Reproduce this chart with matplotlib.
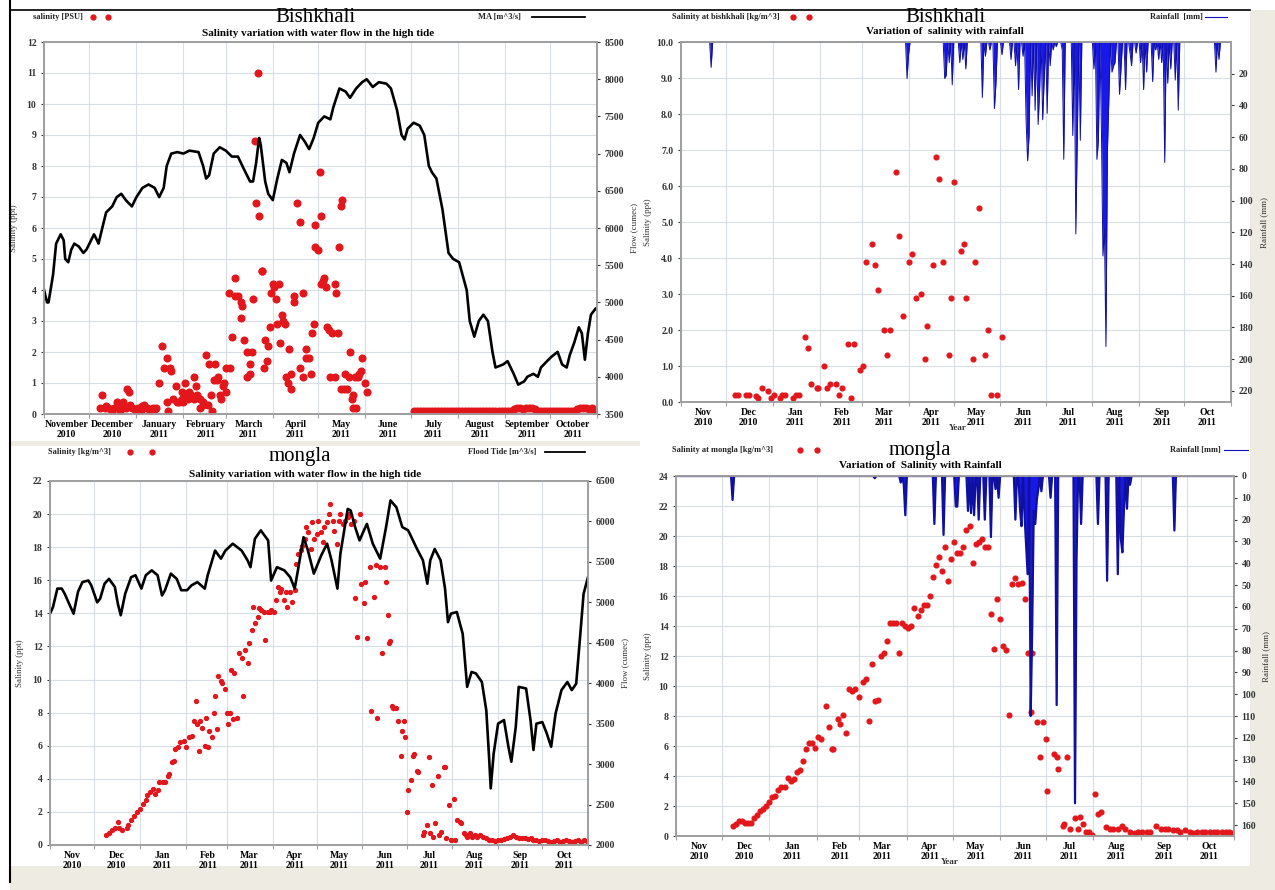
import numpy as np
import matplotlib.pyplot as plt
import matplotlib.dates as mdates
from matplotlib.lines import Line2D
from matplotlib.patches import Rectangle

plt.rcParams['font.family'] = ['Liberation Serif', 'DejaVu Serif']
plt.rcParams['font.weight'] = 'bold'

W, H = 1275, 890
start = np.datetime64('2010-11-01')
end = np.datetime64('2011-11-01')

# ---------------- Bishkhali : salinity + flow (top left) ----------------
bk_flow_day = [0, 2, 3, 6, 8, 11, 13, 14, 16, 18, 20, 23, 26, 28,
               30, 33, 35, 36, 38, 41, 45, 48, 51, 54, 58,
               61, 65, 69, 73, 76, 79, 81, 84, 88,
               92, 96, 102, 105, 107, 109, 112, 116,
               120, 124, 128, 132, 136, 138, 140, 142, 143, 146, 148,
               151, 154, 157, 160, 162, 165, 169, 172, 175, 178,
               181, 185, 189, 191, 195, 199, 202, 206, 210,
               213, 217, 221, 226, 229, 233, 236, 238, 240,
               244, 248, 251, 254, 256, 259, 263, 267, 270,
               274, 279, 281, 284, 287, 290, 293, 296, 298, 303,
               306, 310, 313, 317, 319, 323, 326, 328, 332,
               335, 339, 342, 345, 347, 350, 353, 355, 357, 359, 361, 364]
bk_flow = [5170, 5000, 5000, 5375, 5790, 5915, 5835, 5585, 5540, 5710, 5790, 5750, 5665, 5710,
           5790, 5915, 5835, 5790, 5960, 6210, 6290, 6415, 6460, 6375, 6290,
           6415, 6540, 6585, 6540, 6415, 6540, 6835, 7000, 7020,
           7000, 7040, 7020, 6835, 6665, 6710, 7000, 7085,
           7040, 6960, 6960, 6790, 6625, 6625, 6875, 7210, 7125, 6625, 6460,
           6375, 6665, 6915, 6875, 6750, 7000, 7250, 7165, 7060, 7210,
           7415, 7500, 7460, 7625, 7875, 7835, 7750, 7875, 7960,
           8000, 7895, 7960, 7940, 7875, 7585, 7250, 7190, 7335,
           7415, 7375, 7250, 6835, 6750, 6665, 6250, 5665, 5585,
           5540, 5165, 4750, 4540, 4750, 4835, 4750, 4335, 4125, 4165,
           4210, 4040, 3895, 3940, 4000, 4040, 4000, 4125, 4210,
           4270, 4335, 4165, 4125, 4290, 4460, 4665, 4585, 4230, 4585, 4835, 4915]

bk_sal_day = [37, 38, 40, 41, 42, 44, 45, 46, 48, 50, 51, 52, 54, 55, 56, 57, 58, 60, 61,
              62, 64, 65, 66, 68, 69, 70, 72, 73, 74, 76, 78, 79, 81, 81, 82, 83, 84, 85, 87, 88, 89, 91, 91, 92, 93,
              94, 95, 96, 97, 99, 99, 100, 101, 103, 103, 105, 105, 107, 108, 109, 110, 111, 112, 113, 114, 115, 116, 117, 118, 119, 120,
              120, 122, 123, 124, 126, 126, 128, 130, 130, 131, 132, 134, 134, 136, 136, 137, 138, 139, 140, 141, 142, 144, 144, 145, 146, 147, 148, 149, 150, 151, 152,
              153, 154, 155, 156, 157, 158, 159, 160, 161, 162, 163, 163, 165, 165, 167, 169, 169, 171, 171, 173, 173, 175, 176, 177, 178, 179,
              179, 181, 182, 183, 183, 184, 185, 186, 187, 188, 189, 190, 192, 192, 193, 194, 195, 196, 196, 197, 198, 199, 200, 201, 202, 203, 204, 204, 205, 206, 207, 208, 209, 210, 212, 213]
bk_sal = [0.2, 0.6, 0.2, 0.25, 0.2, 0.15, 0.1, 0.2, 0.4, 0.1, 0.2, 0.4, 0.2, 0.8, 0.7, 0.3, 0.2, 0.15, 0.1,
          0.2, 0.1, 0.25, 0.3, 0.2, 0.15, 0.1, 0.2, 0.15, 0.2, 1.0, 2.2, 1.5, 1.8, 0.4, 0.1, 1.5, 1.4, 0.5, 0.9, 0.4, 0.4, 0.5, 0.7, 0.4, 1.0,
          0.6, 0.5, 0.7, 0.6, 0.5, 1.2, 0.9, 0.6, 0.5, 0.2, 0.4, 0.3, 1.9, 0.3, 1.6, 0.6, 0.1, 1.1, 1.6, 1.1, 1.2, 0.6, 0.5, 0.9, 1.0, 0.7,
          1.5, 3.9, 1.5, 2.5, 4.4, 3.8, 3.8, 3.1, 3.6, 3.5, 2.4, 2.0, 1.2, 1.6, 1.3, 2.0, 3.7, 8.8, 6.8, 11.0, 6.4, 4.6, 4.6, 1.5, 2.4, 1.7, 2.2, 2.8, 3.9, 4.2, 4.1,
          3.7, 2.9, 4.2, 2.3, 3.2, 3.0, 2.9, 1.2, 1.0, 2.1, 0.8, 1.3, 3.6, 3.8, 6.8, 1.5, 6.2, 1.2, 3.9, 1.8, 2.1, 1.8, 1.3, 2.6, 2.9, 6.1,
          5.4, 5.3, 7.8, 4.2, 6.4, 4.3, 4.4, 4.1, 2.8, 2.7, 1.2, 2.6, 1.2, 4.2, 3.9, 2.6, 5.4, 0.8, 6.7, 6.9, 0.8, 1.3, 0.8, 1.2, 2.0, 0.5, 0.2, 0.6, 1.2, 0.2, 1.2, 1.3, 1.4, 1.8, 1.0, 0.7]

bk_late_day = np.arange(244, 365, 2)
bk_late_sal = [0.1, 0.1, 0.1, 0.1, 0.1, 0.1, 0.1, 0.1, 0.1, 0.1, 0.1, 0.1, 0.1, 0.1, 0.1, 0.1, 0.1,
               0.1, 0.1, 0.1, 0.1, 0.1, 0.1, 0.1, 0.1, 0.1, 0.1, 0.1, 0.1, 0.1, 0.1, 0.1, 0.1,
               0.15, 0.2, 0.2, 0.15, 0.2, 0.2, 0.2, 0.15,
               0.1, 0.1, 0.1, 0.1, 0.1, 0.1, 0.1, 0.1, 0.1, 0.1, 0.1, 0.1, 0.1,
               0.15, 0.2, 0.2, 0.2, 0.15, 0.2, 0.1]

# ---------------- Bishkhali : salinity + rainfall (top right) ----------------
bk2_sal_day = [36, 38, 43, 45, 50, 51, 54, 58, 60, 62, 66, 67, 69, 74, 76, 78,
               82, 84, 86, 90, 91, 95, 97, 99, 103, 105, 107, 111, 113, 115, 119, 121,
               123, 127, 129, 131, 135, 137, 139, 143, 145, 147, 151, 153, 156, 159, 162, 163, 167,
               169, 171, 174, 178, 179, 181, 186, 188, 189, 194, 195, 198, 202, 204, 206, 210, 213]
bk2_sal = [0.2, 0.2, 0.2, 0.2, 0.17, 0.1, 0.4, 0.3, 0.1, 0.2, 0.1, 0.2, 0.2, 0.1, 0.2, 0.2,
           1.8, 1.5, 0.5, 0.4, 0.4, 1.0, 0.4, 0.5, 0.5, 0.2, 0.4, 1.6, 0.1, 1.6, 0.9, 1.0,
           3.9, 4.4, 3.8, 3.1, 2.0, 1.3, 2.0, 6.4, 4.6, 2.4, 3.9, 4.1, 2.9, 3.0, 1.2, 2.1, 3.8,
           6.8, 6.2, 3.9, 1.3, 2.9, 6.1, 4.2, 4.4, 2.9, 1.2, 3.9, 5.4, 1.3, 2.0, 0.2, 0.2, 1.8]

bk_rain_day = [20, 150, 151, 175, 176, 178, 180, 185, 187, 189, 200, 202, 205, 208, 209, 213,
               219, 222, 224, 227, 229, 230, 231, 233, 235, 237, 238, 240, 241, 243, 245, 247, 249,
               253, 254, 260, 262, 263, 265, 274, 276, 277, 279, 280, 281, 282, 283, 284, 286, 287, 288,
               291, 292, 295, 298, 299, 302, 305, 307, 309, 313, 315, 317, 319, 321, 323, 325, 328, 330,
               355, 357]
bk_rain = [16, 23, 8, 23, 21, 13, 27, 13, 11, 17, 35, 9, 5, 42, 26, 8,
           11, 15, 30, 9, 49, 75, 59, 34, 43, 52, 30, 49, 24, 45, 15, 5, 3,
           5, 74, 59, 121, 59, 62, 17, 74, 62, 55, 135, 118, 192, 68, 34, 19, 15, 13,
           33, 17, 30, 7, 15, 7, 13, 30, 19, 25, 5, 11, 13, 76, 26, 17, 24, 43,
           19, 11]

# ---------------- Mongla : salinity + flood tide (bottom left) ----------------
mg_flow_day = [0, 2, 5, 8, 10, 14, 16, 19, 22, 26, 28, 32, 34, 37, 40, 44, 46, 48, 51, 55, 58,
               62, 65, 69, 73, 76, 78, 82, 86, 89, 93, 96, 100, 105, 107, 112, 116, 119, 124, 130,
               134, 136, 139, 143, 148, 150, 154, 159, 163, 166, 168, 172, 175, 179, 184, 188, 191,
               195, 197, 202, 204, 207, 210, 213, 215, 219, 224, 228, 231, 235, 239, 243, 249, 253,
               256, 258, 261, 265, 268, 270, 272, 276, 280, 283, 286, 289, 293, 296, 298, 299, 301,
               304, 308, 311, 313, 316, 318, 323, 326, 328, 330, 334, 337, 340, 343, 347, 351, 354,
               357, 360, 362, 365]
mg_flow = [4860, 4940, 5170, 5170, 5105, 4940, 4860, 5130, 5250, 5270, 5210, 5000, 5045, 5230, 5290, 5190, 4985, 4840, 5105, 5310, 5335,
           5170, 5335, 5395, 5335, 5085, 5150, 5355, 5290, 5150, 5150, 5210, 5250, 5170, 5335, 5640, 5540, 5640, 5725, 5640,
           5520, 5435, 5785, 5890, 5765, 5270, 5435, 5395, 5310, 5170, 5375, 5805, 5640, 5355, 5580, 5725, 5520,
           5170, 5600, 6155, 6135, 5930, 5765, 5890, 5970, 5725, 5540, 5930, 6260, 6175, 5930, 5890, 5660, 5520,
           5230, 5520, 5660, 5520, 5170, 4755, 4860, 4880, 4610, 3955, 4140, 4120, 4015, 3665, 3050, 2700, 3130,
           3500, 3545, 3215, 3030, 3460, 3955, 3935, 3545, 3175, 3500, 3520, 3380, 3215, 3625, 3915, 4015, 3915,
           3995, 4655, 5105, 5310]

mg_sal_day = [38, 40, 42, 44, 46, 47, 49, 52, 53, 55, 57, 59, 61, 63, 65, 66, 68, 70, 71, 73,
              74, 77, 78, 80, 81, 83, 84, 85, 87, 88, 91, 92, 94, 96, 98, 99, 100, 101, 102, 103,
              105, 106, 107, 108, 110, 111, 112, 113, 114, 116, 117, 119, 120, 121, 122, 123, 124, 125, 127, 128,
              130, 131, 132, 134, 135, 137, 138, 139, 141, 142, 143, 145, 146, 148, 149, 150, 152, 153, 155, 156,
              157, 159, 160, 161, 163, 164, 166, 167, 168, 170, 171, 173, 174, 175, 177, 178, 179, 181, 182, 184,
              185, 186, 188, 189, 190, 192, 193, 195, 196, 197, 199, 200, 202, 203, 204, 206, 207, 208, 210, 211,
              213, 214, 215, 217, 218, 220, 221, 222, 224, 225, 227, 228, 229, 230, 231, 232, 233, 235, 236, 238,
              239, 240, 241, 242, 243, 245, 246, 247, 249, 250, 253, 254, 256, 257, 258, 259, 260, 261, 263, 264,
              265, 267, 268, 269, 271, 272, 274, 275, 276, 278, 279, 281, 282, 283, 285, 286,
              288, 290, 292, 294, 296, 298, 300, 302, 304, 306, 308, 310, 312, 314, 316, 318, 320, 322, 324, 326,
              328, 330, 332, 334, 336, 338, 340, 342, 344, 346, 348, 350, 352, 354, 356, 358, 360, 362, 364]
mg_sal = [0.6, 0.75, 0.9, 1.0, 1.4, 1.0, 0.9, 1.0, 1.2, 1.5, 1.75, 2.0, 2.2, 2.5, 2.7, 3.0, 3.2, 3.4, 3.1, 3.3,
          3.8, 3.8, 3.8, 4.2, 4.3, 5.0, 5.1, 5.8, 5.9, 6.2, 6.3, 5.9, 6.5, 6.6, 7.5, 8.7, 7.3, 5.7, 7.5, 7.1,
          6.0, 7.7, 5.9, 6.9, 6.5, 8.0, 9.0, 7.0, 10.2, 9.9, 9.8, 9.4, 8.0, 7.3, 8.0, 10.6, 7.6, 10.4, 7.7, 11.6,
          11.3, 9.0, 11.8, 11.0, 12.2, 13.0, 14.4, 13.4, 13.8, 14.3, 14.2, 14.1, 12.4, 14.1, 14.1, 14.2, 14.1, 14.8, 15.6, 15.3,
          15.5, 14.8, 15.3, 14.4, 15.3, 14.7, 15.4, 17.0, 17.6, 17.8, 18.1, 18.5, 19.2, 18.9, 17.9, 19.5, 18.5, 18.8, 19.6, 18.9,
          18.3, 19.2, 19.5, 20.0, 20.6, 19.6, 19.0, 18.2, 19.6, 20.0, 19.4, 19.6, 19.8, 20.0, 19.4, 19.6, 14.9, 12.6, 20.0, 15.8,
          14.6, 15.9, 12.5, 16.8, 8.1, 15.0, 16.9, 7.7, 16.8, 11.6, 16.8, 15.9, 13.9, 12.2, 12.3, 8.4, 8.3, 8.3, 7.5, 5.4,
          6.9, 7.5, 6.5, 2.0, 3.3, 3.9, 5.4, 5.5, 4.5, 4.4, 0.6, 0.8, 1.2, 5.3, 0.7, 3.6, 0.5, 1.3, 4.2, 0.6,
          0.8, 4.7, 4.7, 0.4, 2.4, 0.3, 2.8, 0.3, 1.5, 1.4, 1.3, 0.7, 0.6, 0.5, 0.75, 0.5,
          0.6, 0.5, 0.6, 0.5, 0.4, 0.3, 0.3, 0.25, 0.3, 0.3, 0.35, 0.4, 0.5, 0.6, 0.5, 0.45, 0.4, 0.4, 0.35, 0.4,
          0.3, 0.3, 0.25, 0.3, 0.3, 0.25, 0.2, 0.25, 0.3, 0.2, 0.25, 0.3, 0.25, 0.2, 0.25, 0.3, 0.2, 0.3, 0.25]

# ---------------- Mongla : salinity + rainfall (bottom right) ----------------
mg2_sal_day = [37, 39, 41, 43, 45, 47, 49, 51, 53, 55, 57, 59, 61, 63, 65, 67, 69, 71, 73, 75,
               77, 79, 81, 83, 85, 87, 89, 91, 93, 95, 98, 100, 102, 103, 106, 107, 109, 111, 113, 115,
               117, 120, 122, 124, 126, 128, 130, 132, 134, 136, 138, 140, 142, 144, 146, 148, 150, 152, 154, 156,
               158, 160, 162, 164, 166, 168, 170, 172, 174, 176, 178, 180, 182, 184, 186, 188, 190, 192, 194, 196,
               198, 200, 202, 204, 206, 208, 210, 212, 214, 216, 218, 220, 222, 224, 226, 228, 230, 232, 233, 236,
               238, 240, 242, 243, 247, 249, 250, 253, 254, 256, 258, 261, 263, 264, 266, 268, 270, 272, 274, 276,
               278, 281, 284, 286, 289, 292, 294, 297, 300, 302, 305, 308, 310, 314, 317, 320, 322, 325, 328, 330,
               333, 336, 338, 341, 344, 346, 349, 352, 354, 357, 360, 362, 364]
mg2_sal = [0.7, 0.8, 1.0, 1.0, 0.9, 0.9, 0.9, 1.2, 1.4, 1.7, 1.8, 2.0, 2.3, 2.6, 2.7, 3.1, 3.3, 3.3, 3.9, 3.7,
           3.8, 4.3, 4.4, 5.0, 5.8, 6.2, 6.2, 5.9, 6.6, 6.5, 8.7, 7.3, 5.8, 5.8, 7.8, 7.5, 8.1, 6.9, 9.8, 9.7,
           9.8, 9.3, 10.3, 10.5, 7.7, 11.5, 9.0, 9.1, 12.0, 12.2, 13.0, 14.2, 14.2, 14.2, 12.2, 14.2, 14.0, 13.9, 14.0, 15.2,
           14.7, 15.1, 15.4, 15.4, 16.0, 17.3, 18.1, 18.6, 17.7, 19.3, 17.0, 18.5, 19.6, 18.9, 18.9, 19.3, 20.4, 20.7, 18.2, 19.5,
           19.6, 19.8, 19.3, 19.3, 14.8, 12.5, 15.8, 14.5, 12.7, 12.4, 8.1, 16.8, 17.2, 16.8, 16.9, 15.8, 12.2, 8.3, 12.2, 7.6,
           5.3, 7.6, 6.5, 3.0, 5.5, 5.3, 4.5, 0.7, 0.8, 5.3, 0.5, 1.2, 0.5, 1.3, 0.8, 0.3, 0.3, 0.1, 2.8, 1.5,
           1.6, 0.6, 0.5, 0.5, 0.5, 0.7, 0.5, 0.3, 0.2, 0.3, 0.3, 0.3, 0.3, 0.7, 0.5, 0.5, 0.5, 0.4, 0.4, 0.3,
           0.4, 0.3, 0.2, 0.3, 0.3, 0.25, 0.3, 0.25, 0.3, 0.25, 0.25, 0.3, 0.2]

mg_rain_day = [37, 130, 147, 149, 150, 169, 175, 183, 184, 191, 193, 195, 198, 202, 206, 209, 211,
               222, 225, 226, 228, 229, 230, 232, 233, 234, 235, 236, 237, 239, 245, 249, 261, 262, 265,
               276, 282, 289, 291, 292, 293, 295, 297, 326]
mg_rain = [11, 1, 3, 4, 18, 22, 27, 14, 14, 16, 17, 18, 20, 20, 28, 6, 10,
           20, 15, 23, 18, 32, 45, 110, 70, 16, 22, 11, 6, 7, 10, 105, 150, 38, 22,
           22, 48, 45, 29, 35, 15, 15, 4, 25]

RED = '#e3161b'
BLUE = '#1818e8'
GRID = '#d9dee5'
SPINE = '#a0a0a0'


def to_date(days):
    return start + np.asarray(days).astype('timedelta64[D]')


def fx(x):
    return x / W


def fy(y):
    return 1 - y / H


fig = plt.figure(figsize=(12.75, 8.9), dpi=100)
fig.patch.set_facecolor('white')


def frect(x0, y0, x1, y1, color):
    fig.add_artist(Rectangle((fx(x0), fy(y1)), (x1 - x0) / W, (y1 - y0) / H,
                             transform=fig.transFigure, facecolor=color,
                             edgecolor='none', zorder=-10))


beige = '#eeebe3'
frect(10, 866, 1275, 890, beige)
frect(1250, 10, 1275, 890, beige)
frect(10, 441, 640, 446, beige)
fig.add_artist(Line2D([fx(10), fx(10)], [fy(0), fy(882)], color='black', lw=1.5,
                      transform=fig.transFigure))
fig.add_artist(Line2D([fx(10), fx(1250)], [fy(10), fy(10)], color='black', lw=1.2,
                      transform=fig.transFigure))


def panel(l, t, r, b, fmt):
    ax = fig.add_axes([fx(l), fy(b), (r - l) / W, (b - t) / H])
    ax2 = ax.twinx()
    for a in (ax, ax2):
        for s in a.spines.values():
            s.set_color(SPINE)
            s.set_linewidth(1.3)
        a.tick_params(labelsize=7, colors='#333333', length=2)
    ax.set_xlim(start, end)
    ax.xaxis.set_major_locator(mdates.MonthLocator())
    ax.xaxis.set_major_formatter(plt.NullFormatter())
    ax.xaxis.set_minor_locator(mdates.MonthLocator(bymonthday=16))
    ax.xaxis.set_minor_formatter(mdates.DateFormatter(fmt))
    ax.tick_params(axis='x', which='minor', length=0, labelsize=7, pad=4)
    ax.tick_params(axis='x', which='major', length=3, color=SPINE)
    ax.grid(True, which='major', color=GRID, lw=0.8)
    ax.set_axisbelow(True)
    return ax, ax2


def legend_items(x_text, y, text, dot_x, line_text, x_line_text, line_x, line_color, line_lw):
    fig.text(fx(x_text), fy(y), text, fontsize=6, va='center', ha='left', color='#222222')
    fig.add_artist(Line2D([fx(dot_x[0]), fx(dot_x[1])], [fy(y), fy(y)], ls='none', marker='o',
                          ms=3.5, color=RED, transform=fig.transFigure))
    fig.text(fx(x_line_text), fy(y), line_text, fontsize=6, va='center', ha='left', color='#222222')
    fig.add_artist(Line2D([fx(line_x[0]), fx(line_x[1])], [fy(y), fy(y)], color=line_color,
                          lw=line_lw, transform=fig.transFigure))


LABEL = dict(fontsize=6.5, color='#333333')

# ---- top left
ax, ax2 = panel(44, 42, 597, 414, '%B\n%Y')
ax2.plot(to_date(bk_flow_day), bk_flow, color='black', lw=1.9)
ax.plot(to_date(bk_sal_day), bk_sal, 'o', color=RED, ms=4.8, zorder=3)
ax.plot(to_date(bk_late_day), bk_late_sal, 'o', color=RED, ms=4.8, zorder=3)
ax.set_ylim(0, 12)
ax.set_yticks(range(0, 13))
ax2.set_ylim(3500, 8500)
ax2.set_yticks(range(3500, 8501, 500))
ax.set_ylabel('Salinity (ppt)', labelpad=6, **LABEL)
ax2.set_ylabel('Flow (cumec)', labelpad=4, **LABEL)
fig.text(fx(315), fy(18), 'Bishkhali', fontsize=15, fontweight='normal', ha='center', va='center')
fig.text(fx(318), fy(34), 'Salinity variation with water flow in the high tide', fontsize=8,
         ha='center', va='center')
legend_items(33, 17, 'salinity [PSU]', (93, 108), 'MA [m^3/s]', 478, (532, 585), 'black', 1.3)

# ---- top right
ax, ax2 = panel(681, 42, 1231, 402, '%b\n%Y')
ax.plot(to_date(bk2_sal_day), bk2_sal, 'o', color=RED, ms=3.4, zorder=3)
ax.set_ylim(0, 10)
ax.set_yticks(range(0, 11))
ax.yaxis.set_major_formatter(plt.FormatStrFormatter('%.1f'))
rain_days = np.arange(0, 366)
rain_tr = np.zeros(366)
rain_tr[bk_rain_day] = bk_rain
ax2.fill_between(to_date(rain_days), 0, rain_tr, color=BLUE, lw=0)
ax2.plot(to_date(rain_days), rain_tr, color='#1010a0', lw=0.7)
ax2.set_ylim(227, 0)
ax2.set_yticks(range(20, 221, 20))
ax2.set_xlim(start, end)
ax.set_ylabel('Salinity (ppt)', labelpad=3, **LABEL)
ax2.set_ylabel('Rainfall (mm)', labelpad=5, **LABEL)
fig.text(fx(945), fy(18), 'Bishkhali', fontsize=15, fontweight='normal', ha='center', va='center')
fig.text(fx(945), fy(32), 'Variation of  salinity with rainfall', fontsize=8, ha='center', va='center')
fig.text(fx(958), fy(428), 'Year', fontsize=6.5, ha='center', va='center', color='#333333')
legend_items(672, 17, 'Salinity at bishkhali [kg/m^3]', (793, 809), 'Rainfall  [mm]', 1150,
             (1205, 1227), '#1010c0', 0.8)

# ---- bottom left
ax, ax2 = panel(50, 481, 588, 845, '%b\n%Y')
ax2.plot(to_date(mg_flow_day), mg_flow, color='black', lw=1.9)
ax.plot(to_date(mg_sal_day), mg_sal, 'o', color=RED, ms=2.8, zorder=3)
ax.set_ylim(0, 22)
ax.set_yticks(range(0, 23, 2))
ax2.set_ylim(2000, 6500)
ax2.set_yticks(range(2000, 6501, 500))
ax.set_ylabel('Salinity (ppt)', labelpad=6, **LABEL)
ax2.set_ylabel('Flow (cumec)', labelpad=4, **LABEL)
fig.text(fx(300), fy(457), 'mongla', fontsize=15, fontweight='normal', ha='center', va='center')
fig.text(fx(305), fy(474), 'Salinity variation with water flow in the high tide', fontsize=8,
         ha='center', va='center')
legend_items(48, 452, 'Salinity [kg/m^3]', (130, 152), 'Flood Tide [m^3/s]', 468, (545, 585), 'black', 1.3)

# ---- bottom right
ax, ax2 = panel(676, 476, 1234, 836, '%b\n%Y')
ax.plot(to_date(mg2_sal_day), mg2_sal, 'o', color=RED, ms=3.4, zorder=3)
ax.set_ylim(0, 24)
ax.set_yticks(range(0, 25, 2))
rain_br = np.zeros(366)
rain_br[mg_rain_day] = mg_rain
ax2.fill_between(to_date(rain_days), 0, rain_br, color=BLUE, lw=0)
ax2.plot(to_date(rain_days), rain_br, color='#1010a0', lw=1.6)
ax2.set_ylim(165, 0)
ax2.set_yticks(range(0, 161, 10))
ax2.set_xlim(start, end)
ax.set_ylabel('Salinity (ppt)', labelpad=5, **LABEL)
ax2.set_ylabel('Rainfall (mm)', labelpad=4, **LABEL)
fig.text(fx(920), fy(450), 'mongla', fontsize=15, fontweight='normal', ha='center', va='center')
fig.text(fx(920), fy(466), 'Variation of  Salinity with Rainfall', fontsize=8, ha='center', va='center')
fig.text(fx(950), fy(862), 'Year', fontsize=6.5, ha='center', va='center', color='#333333')
legend_items(672, 450, 'Salinity at mongla [kg/m^3]', (800, 817), 'Rainfall [mm]', 1170,
             (1224, 1248), '#1010c0', 0.8)

fig.savefig('out.png', dpi=100, facecolor=fig.get_facecolor())
